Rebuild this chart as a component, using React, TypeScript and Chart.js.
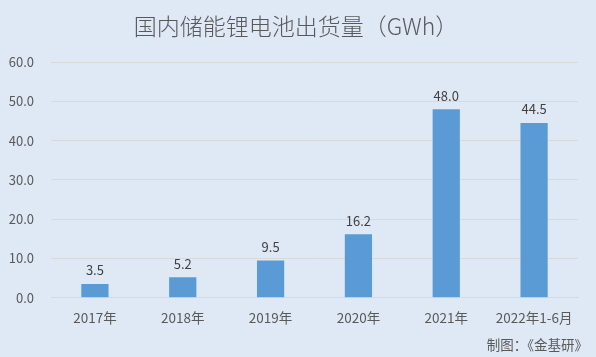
import React, { useEffect, useRef } from "react";
import { Chart, registerables } from "chart.js";

Chart.register(...registerables);

const categories = ["2017年", "2018年", "2019年", "2020年", "2021年", "2022年1-6月"];
const shipments = [3.5, 5.2, 9.5, 16.2, 48.0, 44.5];
const titleText = "国内储能锂电池出货量（GWh）";
const sourceText = "制图：《金基研》";

const FONT = '"Noto Sans CJK SC", "Noto Sans", sans-serif';
const BG = "#dfe9f5";

const overlayPlugin = {
  id: "overlay",
  beforeDraw(chart: any) {
    const { ctx, width, height } = chart;
    ctx.save();
    ctx.fillStyle = BG;
    ctx.fillRect(0, 0, width, height);
    ctx.restore();
  },
  afterDatasetsDraw(chart: any) {
    const { ctx } = chart;
    const meta = chart.getDatasetMeta(0);
    ctx.save();
    ctx.font = `13px ${FONT}`;
    ctx.fillStyle = "#404040";
    ctx.textAlign = "center";
    ctx.textBaseline = "bottom";
    meta.data.forEach((bar: any, i: number) => {
      ctx.fillText(shipments[i].toFixed(1), bar.x, bar.y - 7);
    });
    ctx.font = `300 23px ${FONT}`;
    ctx.fillStyle = "#595959";
    ctx.textBaseline = "middle";
    ctx.fillText(titleText, 296, 26);
    ctx.font = `13.5px ${FONT}`;
    ctx.textAlign = "right";
    ctx.fillText(sourceText, 588, 345);
    ctx.restore();
  },
};

export default function App() {
  const ref = useRef<HTMLCanvasElement>(null);
  useEffect(() => {
    document.body.style.margin = "0";
    const chart = new Chart(ref.current!, {
      type: "bar",
      data: {
        labels: categories,
        datasets: [
          {
            data: shipments,
            backgroundColor: "#5b9bd5",
            barPercentage: 0.62,
            categoryPercentage: 0.5,
          },
        ],
      },
      options: {
        animation: false,
        responsive: false,
        layout: { padding: { top: 62, left: 8, right: 18, bottom: 19 } },
        plugins: { legend: { display: false }, tooltip: { enabled: false } },
        scales: {
          x: {
            grid: { display: false, drawTicks: false },
            border: { display: true, color: "#d9d9d9" },
            ticks: { color: "#595959", font: { family: FONT, size: 13.5 }, padding: 12, maxRotation: 0 },
          },
          y: {
            min: 0,
            max: 60,
            afterFit: (scale: any) => {
              scale.width = 43;
            },
            grid: { color: "#d9d9d9", drawTicks: false },
            border: { display: false },
            ticks: {
              stepSize: 10,
              color: "#595959",
              font: { family: FONT, size: 13 },
              padding: 17,
              callback: (v: any) => Number(v).toFixed(1),
            },
          },
        },
      },
      plugins: [overlayPlugin],
    });
    return () => chart.destroy();
  }, []);
  return (
    <div style={{ position: "fixed", left: 0, top: 0, width: 596, height: 357 }}>
      <canvas ref={ref} width={596} height={357} />
    </div>
  );
}
